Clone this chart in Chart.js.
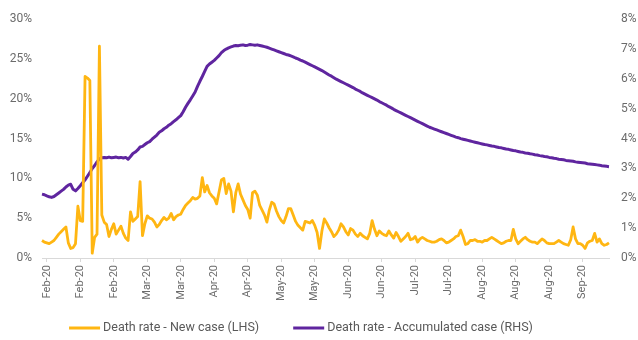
<!DOCTYPE html>
<html>
<head>
<meta charset="utf-8">
<script src="https://cdn.jsdelivr.net/npm/chart.js@4.4.1/dist/chart.umd.min.js"></script>
<style>
  html, body { margin: 0; padding: 0; background: #ffffff; }
  #wrap { width: 638px; height: 340px; position: relative; }
</style>
</head>
<body>
<div id="wrap"><canvas id="chart" width="638" height="340"></canvas></div>
<script>
// Daily series, 30 Jan 2020 - 23 Sep 2020
const firstDay = new Date(2020, 0, 30);
const dayCount = 238;

// Axis tick labels, one every 14 days starting on 1 Feb
const tickLabels = ['Feb-20', 'Feb-20', 'Feb-20', 'Mar-20', 'Mar-20', 'Apr-20', 'Apr-20', 'May-20', 'May-20',
                    'Jun-20', 'Jun-20', 'Jul-20', 'Jul-20', 'Aug-20', 'Aug-20', 'Aug-20', 'Sep-20'];
const tickStart = 2;
const tickEvery = 14;

const leftTicks = [0, 5, 10, 15, 20, 25, 30];
const rightTicks = [0, 1, 2, 3, 4, 5, 6, 7, 8];

const seriesNames = ['Death rate - New case (LHS)', 'Death rate - Accumulated case (RHS)'];

// Death rate of newly reported cases, % (left axis)
const newCaseRate = [
  2.2, 2.0, 1.9, 1.8, 2.0, 2.2, 2.6, 3.0, 3.3, 3.6,
  3.9, 1.9, 1.2, 1.3, 1.8, 6.5, 4.7, 4.6, 22.8, 22.6,
  22.3, 0.6, 2.6, 3.0, 26.6, 5.4, 4.5, 4.2, 2.7, 3.6,
  4.3, 3.0, 3.5, 4.0, 3.1, 2.5, 2.2, 5.8, 4.6, 4.9,
  5.2, 9.6, 2.8, 4.3, 5.3, 5.0, 4.9, 4.5, 3.9, 4.2,
  4.7, 5.1, 4.8, 5.0, 5.6, 4.8, 5.2, 5.4, 5.5, 6.1,
  6.6, 6.9, 7.2, 7.6, 7.4, 7.5, 7.8, 10.1, 8.3, 9.1,
  8.2, 7.8, 7.5, 6.8, 8.3, 9.8, 10.0, 8.1, 9.3, 8.4,
  5.8, 8.2, 9.3, 8.0, 7.3, 6.6, 6.1, 5.0, 8.2, 8.4,
  7.9, 6.6, 6.0, 5.4, 4.5, 6.0, 7.0, 6.8, 5.9, 5.2,
  4.7, 4.4, 5.2, 6.2, 6.2, 5.4, 4.6, 4.1, 3.8, 3.5,
  4.6, 4.5, 4.4, 4.7, 4.1, 3.2, 1.2, 3.4, 4.9, 4.4,
  3.8, 3.3, 2.7, 3.0, 3.5, 4.3, 3.9, 3.3, 2.9, 3.7,
  3.5, 3.0, 2.7, 3.1, 2.8, 2.6, 2.4, 3.1, 4.7, 3.6,
  2.8, 3.4, 3.1, 2.9, 2.8, 3.4, 2.9, 2.5, 3.2, 2.7,
  2.1, 2.4, 2.7, 3.1, 2.3, 2.4, 2.7, 2.0, 2.4, 2.6,
  2.4, 2.2, 2.1, 2.0, 2.0, 2.1, 2.3, 2.4, 2.2, 1.9,
  2.0, 2.2, 2.4, 2.7, 2.8, 3.5, 2.7, 1.7, 1.8, 2.2,
  2.2, 2.3, 2.1, 2.1, 2.0, 2.2, 2.2, 2.4, 2.6, 2.4,
  2.2, 2.0, 1.8, 1.9, 2.1, 2.2, 2.2, 3.6, 2.4, 1.8,
  2.1, 2.4, 2.6, 2.3, 2.1, 2.0, 2.0, 1.8, 2.1, 2.4,
  2.2, 1.9, 1.8, 1.8, 1.8, 2.0, 2.2, 2.0, 1.8, 1.7,
  1.6, 2.3, 3.9, 2.4, 1.8, 1.8, 1.6, 1.2, 1.9, 2.1,
  2.2, 3.1, 2.0, 2.4, 1.8, 1.6, 1.7, 1.9
];

// Death rate of all accumulated cases, % (right axis)
const accumulatedRate = [
  2.14, 2.12, 2.08, 2.05, 2.03, 2.06, 2.12, 2.18, 2.24, 2.30,
  2.38, 2.44, 2.47, 2.30, 2.25, 2.33, 2.42, 2.52, 2.62, 2.74,
  2.86, 3.00, 3.10, 3.22, 3.32, 3.36, 3.37, 3.36, 3.38, 3.36,
  3.37, 3.38, 3.36, 3.37, 3.35, 3.37, 3.31, 3.40, 3.50, 3.55,
  3.62, 3.72, 3.74, 3.80, 3.86, 3.90, 3.98, 4.05, 4.12, 4.21,
  4.26, 4.33, 4.38, 4.45, 4.50, 4.57, 4.63, 4.70, 4.77, 4.90,
  5.05, 5.18, 5.30, 5.43, 5.56, 5.75, 5.92, 6.08, 6.25, 6.42,
  6.50, 6.56, 6.62, 6.70, 6.78, 6.88, 6.95, 7.00, 7.04, 7.07,
  7.10, 7.12, 7.11, 7.13, 7.14, 7.12, 7.13, 7.15, 7.14, 7.13,
  7.14, 7.12, 7.10, 7.08, 7.06, 7.03, 7.00, 6.97, 6.94, 6.91,
  6.88, 6.85, 6.82, 6.80, 6.77, 6.74, 6.70, 6.67, 6.63, 6.60,
  6.56, 6.52, 6.48, 6.44, 6.40, 6.36, 6.32, 6.28, 6.23, 6.18,
  6.13, 6.09, 6.04, 5.99, 5.95, 5.91, 5.87, 5.83, 5.79, 5.75,
  5.71, 5.66, 5.62, 5.58, 5.53, 5.49, 5.45, 5.41, 5.37, 5.33,
  5.29, 5.24, 5.20, 5.16, 5.12, 5.07, 5.03, 4.98, 4.94, 4.90,
  4.86, 4.82, 4.78, 4.74, 4.70, 4.66, 4.62, 4.58, 4.54, 4.50,
  4.46, 4.42, 4.38, 4.35, 4.32, 4.29, 4.26, 4.23, 4.20, 4.17,
  4.14, 4.11, 4.08, 4.05, 4.03, 4.00, 3.98, 3.96, 3.94, 3.92,
  3.90, 3.88, 3.86, 3.84, 3.82, 3.80, 3.79, 3.77, 3.75, 3.74,
  3.72, 3.70, 3.69, 3.67, 3.65, 3.64, 3.62, 3.60, 3.59, 3.57,
  3.55, 3.54, 3.52, 3.51, 3.49, 3.48, 3.46, 3.45, 3.43, 3.42,
  3.40, 3.39, 3.37, 3.36, 3.34, 3.33, 3.31, 3.30, 3.29, 3.27,
  3.26, 3.25, 3.24, 3.22, 3.21, 3.20, 3.19, 3.18, 3.16, 3.15,
  3.14, 3.13, 3.12, 3.11, 3.09, 3.08, 3.07, 3.06
];

const days = [];
for (let i = 0; i < dayCount; i++) {
  const d = new Date(firstDay);
  d.setDate(firstDay.getDate() + i);
  days.push(d.toISOString().slice(0, 10));
}

const FONT = 'Roboto, "Noto Sans", sans-serif';
const TEXT_GREY = '#6b6b6b';
const YELLOW = '#FFB612';
const PURPLE = '#5F259F';

// Legend drawn under the axis labels: coloured line followed by the series name
const bottomLegend = {
  id: 'bottomLegend',
  afterDraw(chart) {
    const ctx = chart.ctx;
    ctx.save();
    ctx.font = '12.5px ' + FONT;
    ctx.textBaseline = 'middle';
    const lineLen = 31, textGap = 3, itemGap = 34, cy = 328, cx = 301;
    const items = chart.data.datasets.map(ds => ({
      text: ds.label, color: ds.borderColor, w: ctx.measureText(ds.label).width
    }));
    const total = items.reduce((s, it) => s + lineLen + textGap + it.w, 0) + itemGap * (items.length - 1);
    let x = cx - total / 2;
    items.forEach(it => {
      ctx.strokeStyle = it.color;
      ctx.lineWidth = 3;
      ctx.beginPath();
      ctx.moveTo(x, cy);
      ctx.lineTo(x + lineLen, cy);
      ctx.stroke();
      x += lineLen + textGap;
      ctx.fillStyle = '#595959';
      ctx.fillText(it.text, x, cy);
      x += it.w + itemGap;
    });
    ctx.restore();
  }
};

new Chart(document.getElementById('chart'), {
  type: 'line',
  data: {
    labels: days,
    datasets: [
      {
        label: seriesNames[0],
        data: newCaseRate,
        yAxisID: 'yLeft',
        borderColor: YELLOW,
        backgroundColor: YELLOW,
        borderWidth: 2.8,
        pointRadius: 0,
        tension: 0,
        borderJoinStyle: 'round'
      },
      {
        label: seriesNames[1],
        data: accumulatedRate,
        yAxisID: 'yRight',
        borderColor: PURPLE,
        backgroundColor: PURPLE,
        borderWidth: 3,
        pointRadius: 0,
        tension: 0,
        borderJoinStyle: 'round'
      }
    ]
  },
  options: {
    responsive: false,
    animation: false,
    events: [],
    layout: { padding: { top: 15, left: 0, right: 0, bottom: 0 } },
    plugins: { legend: { display: false }, tooltip: { enabled: false } },
    scales: {
      x: {
        type: 'category',
        offset: false,
        grid: { display: true, drawOnChartArea: false, drawTicks: true, tickLength: 4, color: '#d9d9d9' },
        border: { display: true, color: '#d9d9d9', width: 1 },
        ticks: {
          autoSkip: false,
          minRotation: 90,
          maxRotation: 90,
          padding: 3,
          color: TEXT_GREY,
          font: { family: FONT, size: 11 },
          callback: (value, index) => {
            const k = index - tickStart;
            return (k >= 0 && k % tickEvery === 0) ? tickLabels[k / tickEvery] : null;
          }
        },
        afterFit(scale) { scale.height = 82; }
      },
      yLeft: {
        position: 'left',
        min: leftTicks[0],
        max: leftTicks[leftTicks.length - 1],
        afterBuildTicks(scale) { scale.ticks = leftTicks.map(v => ({ value: v })); },
        grid: { display: false, drawTicks: false },
        border: { display: false },
        ticks: {
          padding: 10,
          color: TEXT_GREY,
          font: { family: FONT, size: 12 },
          callback: v => v + '%'
        },
        afterFit(scale) { scale.width = 42; }
      },
      yRight: {
        position: 'right',
        min: rightTicks[0],
        max: rightTicks[rightTicks.length - 1],
        afterBuildTicks(scale) { scale.ticks = rightTicks.map(v => ({ value: v })); },
        grid: { display: false, drawTicks: false },
        border: { display: false },
        ticks: {
          padding: 12,
          color: TEXT_GREY,
          font: { family: FONT, size: 12 },
          callback: v => v + '%'
        },
        afterFit(scale) { scale.width = 29; }
      }
    }
  },
  plugins: [bottomLegend]
});
</script>
</body>
</html>
